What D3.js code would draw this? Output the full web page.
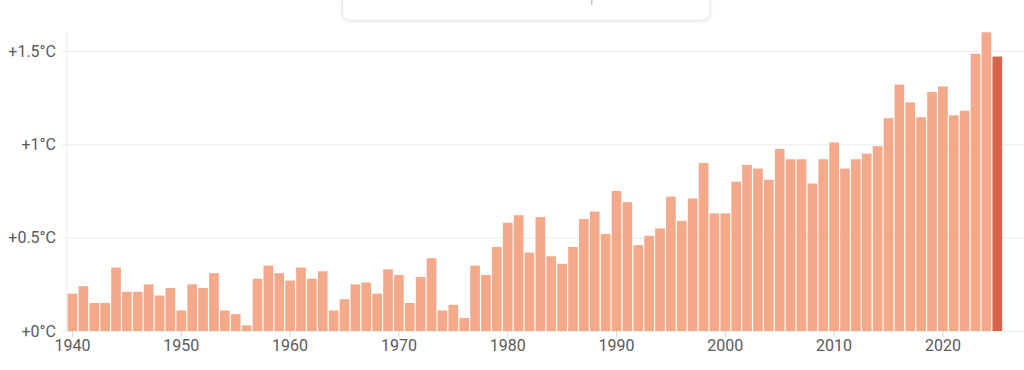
<!DOCTYPE html>
<html>
<head>
<meta charset="utf-8">
<script src="https://cdn.jsdelivr.net/npm/d3@7"></script>
<style>
  html, body { margin: 0; padding: 0; background: #ffffff; }
  svg { display: block; font-family: Roboto, "Noto Sans", sans-serif; }
</style>
</head>
<body>
<svg id="chart" width="1024" height="370"></svg>
<script>
const years = d3.range(1940, 2026);
const anomalies = [
  0.20, 0.24, 0.15, 0.15, 0.34, 0.21, 0.21, 0.25, 0.19, 0.23,
  0.11, 0.25, 0.23, 0.31, 0.11, 0.09, 0.03, 0.28, 0.35, 0.31,
  0.27, 0.34, 0.28, 0.32, 0.11, 0.17, 0.25, 0.26, 0.20, 0.33,
  0.30, 0.15, 0.29, 0.39, 0.11, 0.14, 0.07, 0.35, 0.30, 0.45,
  0.58, 0.62, 0.42, 0.61, 0.40, 0.36, 0.45, 0.60, 0.64, 0.52,
  0.75, 0.69, 0.46, 0.51, 0.55, 0.72, 0.59, 0.71, 0.90, 0.63,
  0.63, 0.80, 0.89, 0.87, 0.81, 0.975, 0.92, 0.92, 0.79, 0.92,
  1.01, 0.87, 0.92, 0.95, 0.99, 1.14, 1.32, 1.225, 1.145, 1.28,
  1.31, 1.155, 1.18, 1.485, 1.60, 1.47
];
const highlightYear = 2025;
const yTicks = [0, 0.5, 1, 1.5];
const yTickLabels = ["+0°C", "+0.5°C", "+1°C", "+1.5°C"];
const xTicks = [1940, 1950, 1960, 1970, 1980, 1990, 2000, 2010, 2020];

const data = years.map((y, i) => ({ year: y, value: anomalies[i] }));

const W = 1024, H = 370;
const svg = d3.select("#chart");

const x = d3.scaleBand()
  .domain(years)
  .range([67.06, 1002.74])
  .paddingInner(0.11)
  .paddingOuter(0.055);

const y = d3.scaleLinear()
  .domain([0, 1.6])
  .range([331, 32.3]);

// top card (partially visible tooltip/box)
const defs = svg.append("defs");
const f = defs.append("filter").attr("id", "sh").attr("x", "-5%").attr("y", "-50%").attr("width", "110%").attr("height", "200%");
f.append("feDropShadow").attr("dx", 0).attr("dy", 1).attr("stdDeviation", 1.5).attr("flood-color", "#000").attr("flood-opacity", 0.12);
svg.append("rect")
  .attr("x", 342.5).attr("y", -20).attr("width", 367.5).attr("height", 40)
  .attr("rx", 7).attr("fill", "#fff").attr("stroke", "#e6e6e6").attr("stroke-width", 1)
  .attr("filter", "url(#sh)");
svg.append("line")
  .attr("x1", 591.7).attr("x2", 591.7).attr("y1", 0).attr("y2", 5)
  .attr("stroke", "#c4c4c4").attr("stroke-width", 1.5);

// horizontal gridlines + y labels
const yAxis = d3.axisLeft(y)
  .tickValues(yTicks)
  .tickSize(-(W - 62))
  .tickPadding(6)
  .tickFormat((d, i) => yTickLabels[i]);
const gy = svg.append("g").attr("transform", "translate(62,0)").call(yAxis);
gy.select(".domain").remove();
gy.selectAll(".tick line").attr("stroke", "#ebebeb").attr("stroke-width", 1);
gy.selectAll(".tick text").attr("fill", "#5a5a5a").attr("font-size", 16).attr("font-family", "Roboto, sans-serif");

// vertical axis line
svg.append("line")
  .attr("x1", 66.7).attr("x2", 66.7).attr("y1", 31.7).attr("y2", 331)
  .attr("stroke", "#ebebeb").attr("stroke-width", 1);

// bars
svg.append("g").selectAll("rect")
  .data(data)
  .join("rect")
  .attr("x", d => x(d.year))
  .attr("y", d => y(d.value))
  .attr("width", x.bandwidth())
  .attr("height", d => y(0) - y(d.value))
  .attr("fill", d => d.year === highlightYear ? "#d6634a" : "#f3a98a");

// x axis
const xAxis = d3.axisBottom(x)
  .tickValues(xTicks)
  .tickSize(6)
  .tickPadding(3)
  .tickFormat(d3.format("d"));
const gx = svg.append("g").attr("transform", "translate(0,331)").call(xAxis);
gx.select(".domain").remove();
gx.selectAll(".tick line").attr("stroke", "#d8d8d8");
gx.selectAll(".tick text").attr("fill", "#5a5a5a").attr("font-size", 16).attr("font-family", "Roboto, sans-serif");
</script>
</body>
</html>
